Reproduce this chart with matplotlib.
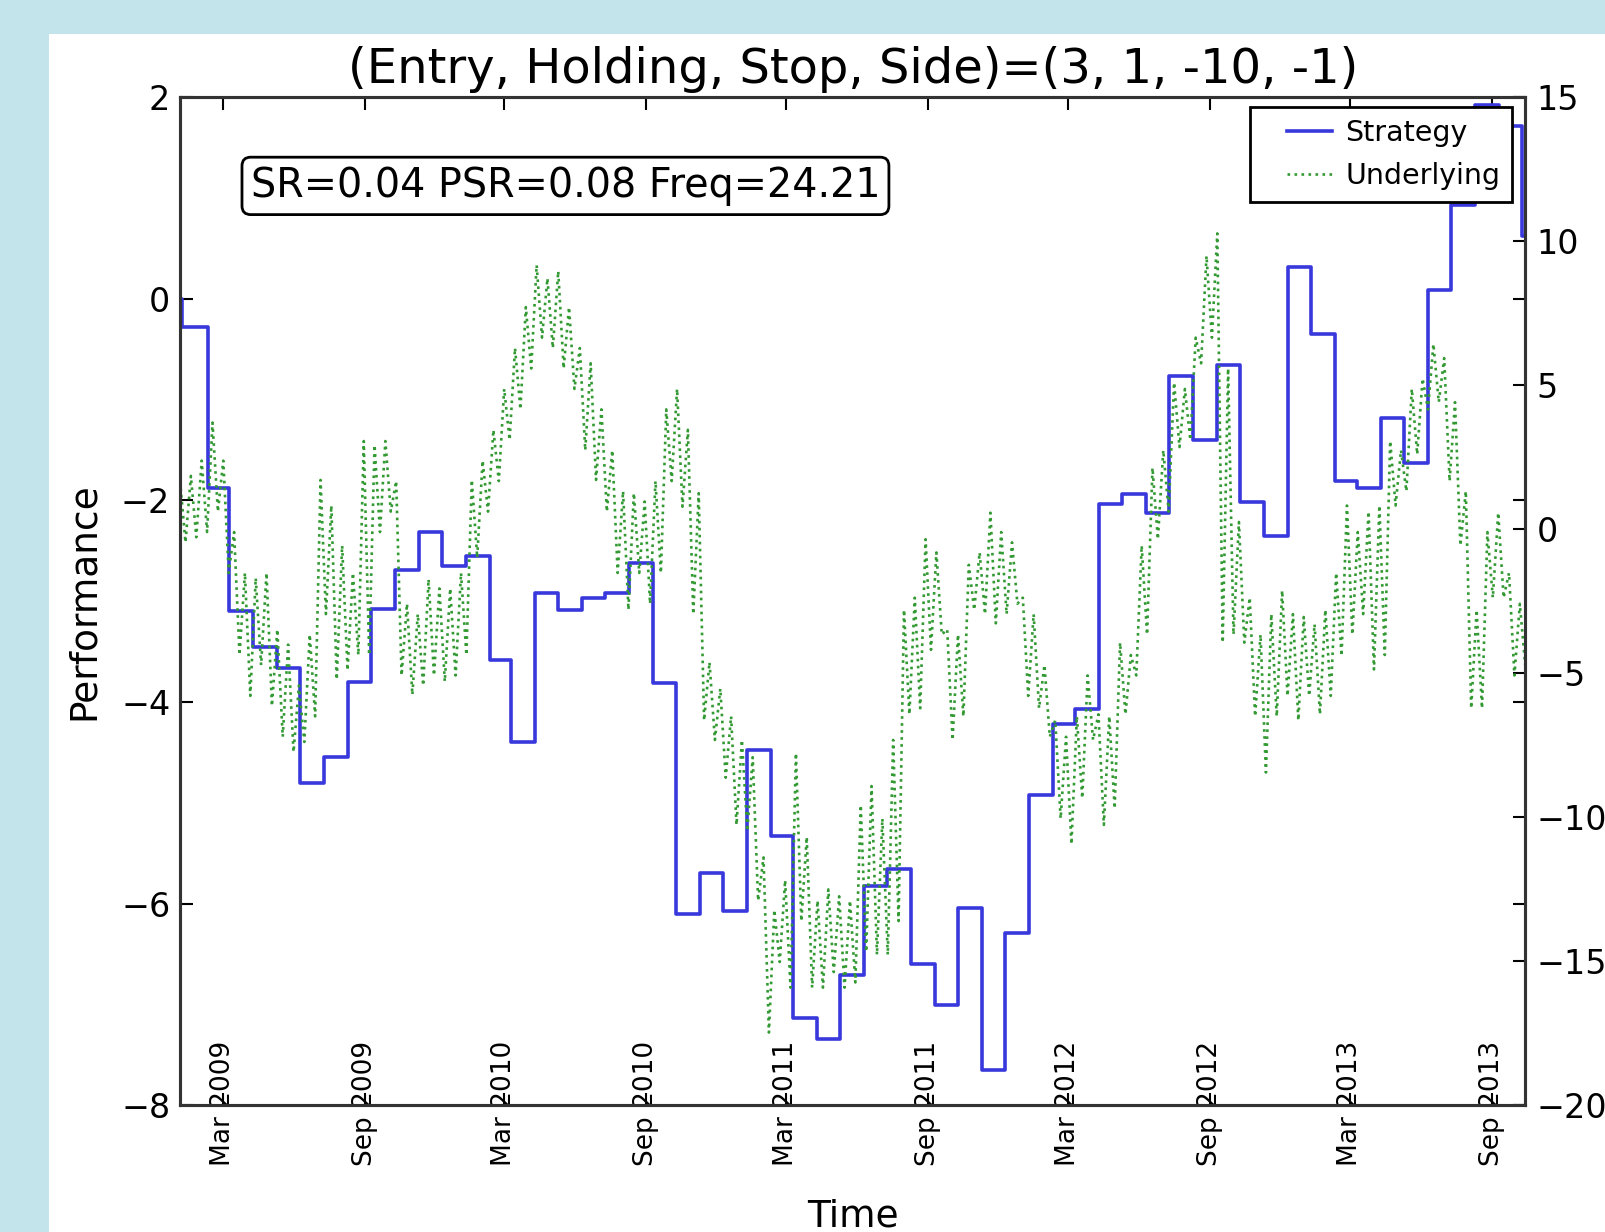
import matplotlib
matplotlib.use("Agg")
import matplotlib.pyplot as plt
import matplotlib.dates as mdates
from matplotlib.patches import Rectangle
from matplotlib.lines import Line2D
from matplotlib.legend_handler import HandlerLine2D
import pandas as pd

# strategy performance, one level per monthly rebalance (left axis)
strategy_start = [0.0, -0.28]
strategy_2009 = [-1.88, -3.10, -3.45, -3.66, -4.80, -4.55, -3.80, -3.08, -2.69, -2.31, -2.65]
strategy_2010 = [-2.55, -3.58, -4.40, -2.92, -3.09, -2.97, -2.92, -2.62, -3.81, -6.10, -5.70, -6.07]
strategy_2011 = [-4.48, -5.33, -7.14, -7.34, -6.71, -5.83, -5.66, -6.60, -7.01, -6.04, -7.65, -6.29]
strategy_2012 = [-4.92, -4.22, -4.07, -2.04, -1.94, -2.13, -0.77, -1.40, -0.66, -2.02, -2.35, 0.32]
strategy_2013 = [-0.35, -1.81, -1.88, -1.18, -1.63, 0.09, 0.93, 1.92, 1.71, 0.62]

# underlying, weekly closes (right axis)
underlying_2009 = [1.67, -0.46, 1.85, -0.28, 2.38, -0.10, 3.70, 0.61, 2.38, -1.52,
                   -0.10, -4.37, -1.52, -5.79, -1.70, -4.72, -1.52, -6.14, -3.48, -7.21,
                   -4.01, -7.74, -5.43, -7.39, -3.66, -6.50, 1.71, -2.95, 0.82, -5.22,
                   -0.57, -4.90, -1.52, -4.37, 3.06, -4.37, 2.92, -0.10, 3.06, 0.61,
                   1.67, -5.08, -2.59, -5.75, -2.95, -5.43, -1.74, -5.08, -2.06, -5.29,
                   -2.06, -5.08]
underlying_2010 = [-1.52, -4.37, 1.71, -0.99, 2.38, 0.61, 3.45, 1.67, 4.87, 3.10,
                   6.29, 4.16, 7.71, 5.58, 9.17, 6.65, 8.71, 6.29, 8.96, 5.58,
                   7.71, 4.87, 6.29, 2.74, 5.76, 1.71, 4.16, 0.61, 2.74, -1.52,
                   1.32, -2.80, 1.25, -1.52, 0.96, -2.59, 1.67, -1.52, 4.16, 1.67,
                   4.87, 0.78, 3.45, -2.95, 1.25, -6.64, -4.62, -7.32, -5.54, -8.63,
                   -6.50, -10.27]
underlying_2011 = [-7.32, -10.48, -7.92, -12.90, -11.40, -17.48, -13.22, -15.03, -12.19, -15.92,
                   -7.78, -13.61, -10.69, -15.92, -12.90, -15.92, -12.51, -15.38, -12.75, -15.92,
                   -12.90, -15.74, -9.59, -14.67, -8.92, -14.78, -10.05, -14.78, -7.32, -13.61,
                   -2.80, -6.43, -2.38, -6.22, -0.35, -4.19, -0.81, -3.66, -3.48, -7.32,
                   -3.66, -6.50, -1.24, -2.80, -0.81, -2.95, 0.57, -3.27, -0.10, -2.95,
                   -0.46, -2.59]
underlying_2012 = [-2.38, -5.79, -2.95, -6.22, -4.72, -7.21, -6.64, -10.05, -7.21, -10.94,
                   -6.50, -9.34, -5.08, -7.32, -6.43, -10.27, -6.50, -9.70, -3.94, -6.43,
                   -4.37, -5.08, -0.57, -3.66, 2.13, -0.35, 2.74, 0.61, 5.09, 2.85,
                   4.87, 3.10, 6.65, 5.76, 9.49, 6.65, 10.27, -3.94, 5.58, -3.66,
                   0.25, -3.94, -2.38, -6.50, -3.66, -8.45, -2.95, -6.50, -2.13, -5.79,
                   -2.95, -6.64]
underlying_2013 = [-3.05, -5.79, -3.30, -6.43, -2.80, -5.79, -1.52, -4.40, 0.82, -3.66,
                   -0.10, -2.95, 0.61, -4.87, 0.82, -4.37, 3.06, 0.82, 2.74, 1.32,
                   4.87, 2.60, 5.23, 4.16, 6.43, 4.41, 5.94, 1.67, 4.41, -0.57,
                   1.32, -6.22, -2.80, -6.22, -0.10, -2.38, 0.57, -2.38, -1.52, -5.08,
                   -2.59, -4.72]

title = "(Entry, Holding, Stop, Side)=(3, 1, -10, -1)"
stats = "SR=0.04 PSR=0.08 Freq=24.21"
start, end = pd.Timestamp("2009-01-05"), pd.Timestamp("2013-10-14")

strategy = (strategy_start + strategy_2009 + strategy_2010 + strategy_2011
            + strategy_2012 + strategy_2013)
underlying = (underlying_2009 + underlying_2010 + underlying_2011
              + underlying_2012 + underlying_2013)

rebal = pd.date_range("2009-02-10", periods=len(strategy) - 2, freq=pd.DateOffset(months=1))
strat_dates = [start, pd.Timestamp("2009-01-07")] + list(rebal) + [end]
strat_vals = strategy + [strategy[-1]]
weeks = pd.date_range(start, periods=len(underlying), freq="7D")

fig = plt.figure(figsize=(16.05, 12.32), dpi=100, facecolor="#c4e4ec")
fig.patches.append(Rectangle((0.0306, 0), 1, 0.9726, transform=fig.transFigure,
                             facecolor="white", edgecolor="none", zorder=-10))

ax = fig.add_axes([0.1122, 0.1030, 0.8381, 0.8181])
ax.step(strat_dates, strat_vals, where="post", color="#3838dc", lw=2.6, label="Strategy")
ax.set_ylim(-8, 2)
ax.set_yticks(range(-8, 3, 2))
ax.set_xlim(start, end)

ax2 = ax.twinx()
ax2.plot(weeks, underlying, ":", color="#339933", lw=1.9, label="Underlying")
ax2.set_ylim(-20, 15)
ax2.set_yticks(range(-20, 16, 5))

ax.xaxis.set_major_locator(mdates.MonthLocator(bymonth=[3, 9]))
ax.xaxis.set_major_formatter(mdates.DateFormatter("%b %Y"))
ax.tick_params(axis="x", top=True, direction="in", length=9, width=1.5,
               labelsize=19, pad=-1, labelrotation=90)
for lbl in ax.get_xticklabels():
    lbl.set_va("center")
ax.tick_params(axis="y", left=True, right=True, direction="in", length=9, width=1.5,
               labelsize=24, pad=7)
ax2.tick_params(axis="y", direction="in", length=9, width=1.5, labelsize=24, pad=8)

for a in (ax, ax2):
    for s in a.spines.values():
        s.set_linewidth(2.2)
        s.set_color("#333333")

ax.set_title(title, fontsize=34.6, pad=10)
ax.set_ylabel("Performance", fontsize=27)
ax.yaxis.set_label_coords(-0.0715, 0.5)
ax.yaxis.label.set_va("center")
ax.set_xlabel("Time", fontsize=27)
ax.xaxis.set_label_coords(0.5, -0.1205)
ax.xaxis.label.set_va("baseline")

ax.text(0.0525, 0.912, stats, transform=ax.transAxes, fontsize=28.5, ha="left", va="center",
        bbox=dict(boxstyle="round,pad=0.22", facecolor="white", edgecolor="black", lw=2))

# legend lines are drawn short, centred in a wider handle box
lines = ax.get_lines() + ax2.get_lines()
leg = ax2.legend(lines, [l.get_label() for l in lines], loc="upper right",
                 bbox_to_anchor=(0.990, 0.990), borderaxespad=0, fontsize=20.5,
                 fancybox=False, edgecolor="black", framealpha=1,
                 handler_map={Line2D: HandlerLine2D(numpoints=2, marker_pad=0.9)},
                 handlelength=3.37, handletextpad=-0.43, borderpad=0.4, labelspacing=0.55)
leg.get_frame().set_linewidth(2)

fig.savefig("out.png", dpi=100, facecolor=fig.get_facecolor())
